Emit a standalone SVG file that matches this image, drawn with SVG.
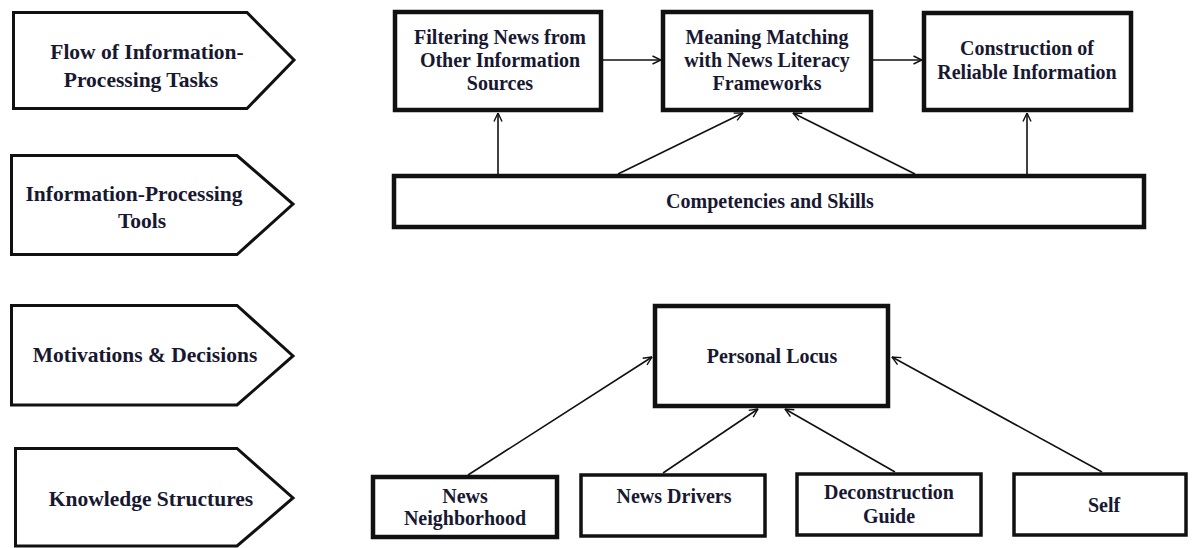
<svg xmlns="http://www.w3.org/2000/svg" width="1193" height="548" viewBox="0 0 1193 548">
<defs>
<marker id="arr" viewBox="0 0 10 10" refX="9.5" refY="5" markerWidth="10" markerHeight="10" markerUnits="userSpaceOnUse" orient="auto">
<path d="M1,1 L9.5,5 L1,9" fill="none" stroke="#111" stroke-width="1.4"/>
</marker>
<style>
.lab{fill:#fff;stroke:#111;stroke-width:3;stroke-linejoin:miter}
.box{fill:#fff;stroke:#111;stroke-width:4.5}
.t{font-family:"Liberation Serif","Times New Roman",serif;font-weight:bold;fill:#181830;text-anchor:middle}
.tl{font-size:21.5px}
.tb{font-size:20px}
.c{stroke:#111;stroke-width:1.6;fill:none;marker-end:url(#arr)}
</style>
</defs>
<rect width="1193" height="548" fill="#fff"/>
<g id="label-flow">
<path class="lab" d="M13.5,12.5 H247 L294,60 L247,108.5 H13.5 Z"/>
<text class="t tl" x="147" y="59">Flow of Information-</text>
<text class="t tl" x="141" y="87">Processing Tasks</text>
</g>
<g id="label-tools">
<path class="lab" d="M11.5,155.5 H237 L293,204 L237,254.5 H11.5 Z"/>
<text class="t tl" x="134" y="201">Information-Processing</text>
<text class="t tl" x="142" y="228">Tools</text>
</g>
<g id="label-motivations">
<path class="lab" d="M11.5,305.5 H237 L293,356 L237,405 H11.5 Z"/>
<text class="t tl" x="145" y="362">Motivations &amp; Decisions</text>
</g>
<g id="label-knowledge">
<path class="lab" d="M15.5,448.5 H237 L293,498 L237,546 H15.5 Z"/>
<text class="t tl" x="151" y="506">Knowledge Structures</text>
</g>
<g id="connectors">
<line class="c" x1="603" y1="60" x2="661" y2="60"/>
<line class="c" x1="873" y1="60" x2="922" y2="60"/>
<line class="c" x1="498" y1="174" x2="498" y2="113"/>
<line class="c" x1="618" y1="174" x2="743" y2="113"/>
<line class="c" x1="915" y1="174" x2="793" y2="113"/>
<line class="c" x1="1027" y1="174" x2="1027" y2="113"/>
<line class="c" x1="468" y1="475" x2="652" y2="357"/>
<line class="c" x1="663" y1="473" x2="758" y2="409"/>
<line class="c" x1="895" y1="472" x2="785" y2="409"/>
<line class="c" x1="1102" y1="472" x2="892" y2="357"/>
</g>
<g id="filtering">
<rect class="box" x="395" y="12" width="206" height="98"/>
<text class="t tb" x="500" y="44">Filtering News from</text>
<text class="t tb" x="500" y="67">Other Information</text>
<text class="t tb" x="500" y="90">Sources</text>
</g>
<g id="meaning">
<rect class="box" x="663" y="12" width="208" height="98"/>
<text class="t tb" x="767" y="44">Meaning Matching</text>
<text class="t tb" x="767" y="67">with News Literacy</text>
<text class="t tb" x="767" y="90">Frameworks</text>
</g>
<g id="construction">
<rect class="box" x="924" y="13" width="207" height="97"/>
<text class="t tb" x="1027" y="55">Construction of</text>
<text class="t tb" x="1027" y="79">Reliable Information</text>
</g>
<g id="competencies">
<rect class="box" x="394" y="176" width="750" height="51"/>
<text class="t tb" x="770" y="208">Competencies and Skills</text>
</g>
<g id="personal-locus">
<rect class="box" x="655" y="306" width="233" height="100"/>
<text class="t tb" x="772" y="363">Personal Locus</text>
</g>
<g id="news-neighborhood">
<rect class="box" x="373" y="477" width="184" height="60"/>
<text class="t tb" x="465" y="503">News</text>
<text class="t tb" x="465" y="525">Neighborhood</text>
</g>
<g id="news-drivers">
<rect class="box" x="581" y="475" width="184" height="61" style="stroke-width:3.5"/>
<text class="t tb" x="674" y="503">News Drivers</text>
</g>
<g id="deconstruction-guide">
<rect class="box" x="797" y="474" width="184" height="61" style="stroke-width:3.5"/>
<text class="t tb" x="889" y="499">Deconstruction</text>
<text class="t tb" x="889" y="523">Guide</text>
</g>
<g id="self">
<rect class="box" x="1014" y="474" width="172" height="61" style="stroke-width:3.5"/>
<text class="t tb" x="1104" y="512">Self</text>
</g>
</svg>
